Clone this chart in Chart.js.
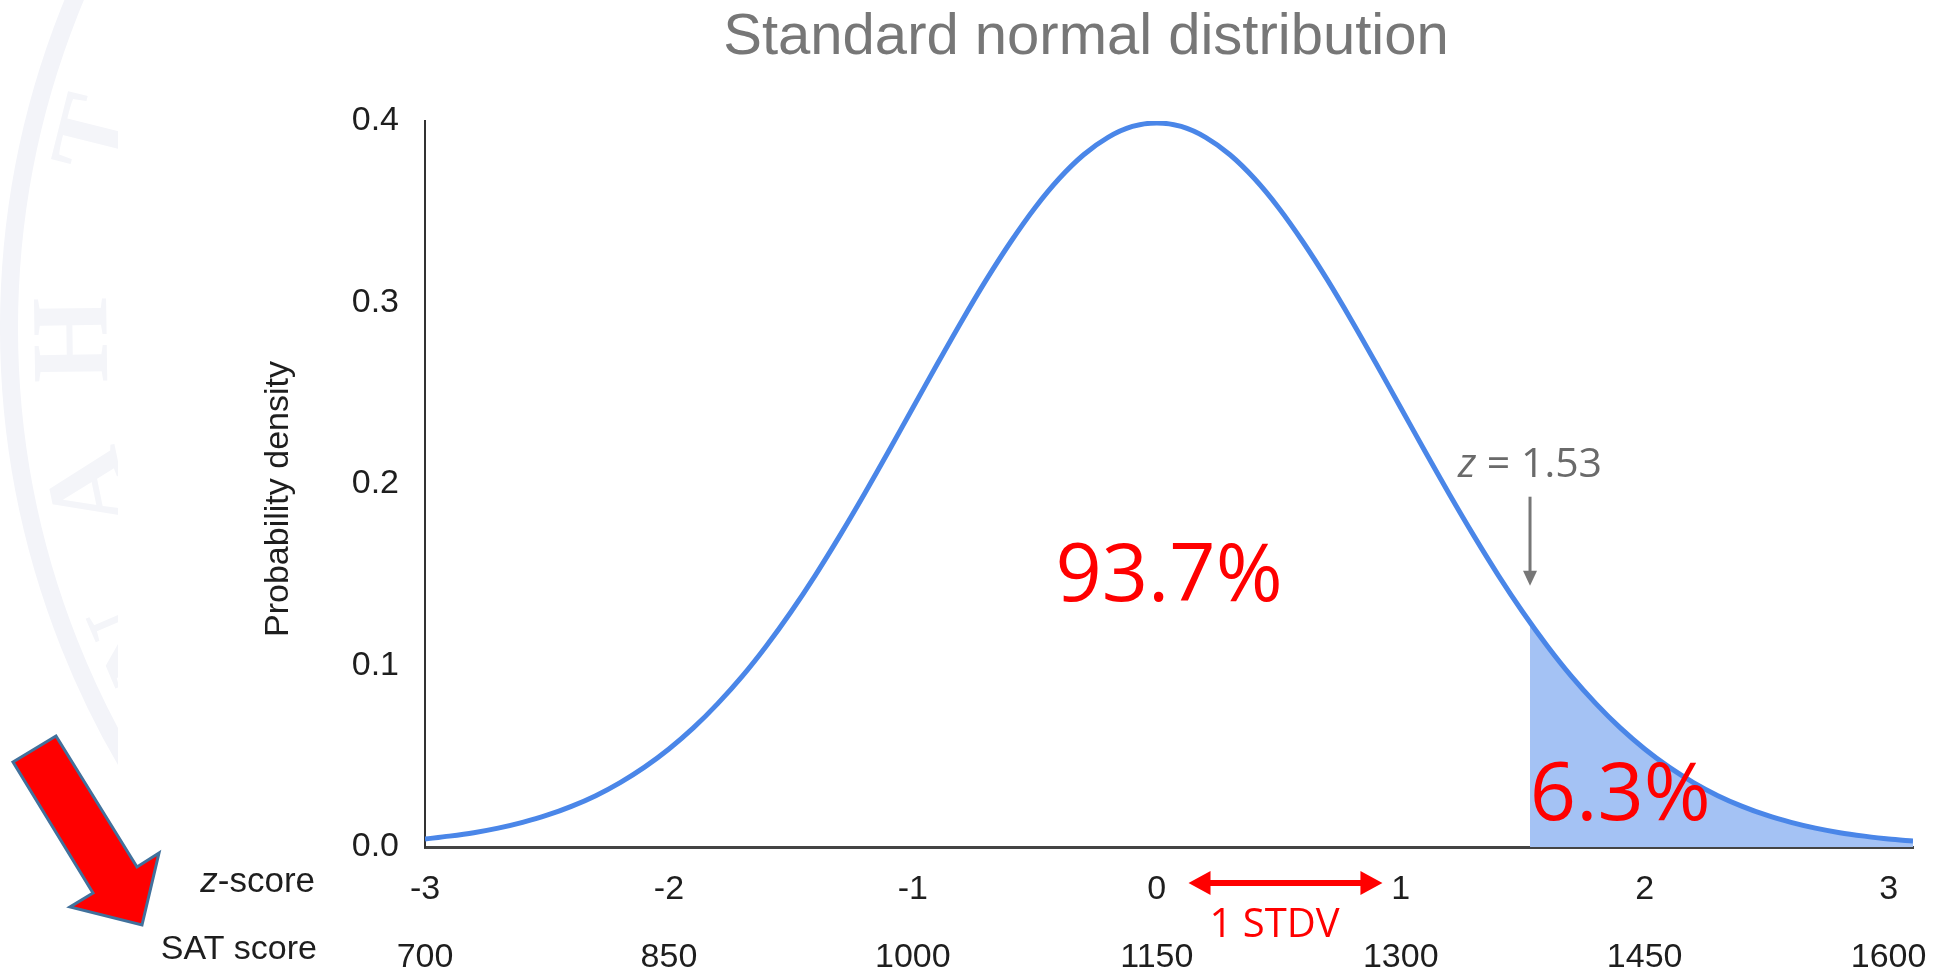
<!DOCTYPE html>
<html>
<head>
<meta charset="utf-8">
<title>Standard normal distribution</title>
<script src="https://cdn.jsdelivr.net/npm/chart.js@4"></script>
<style>
  html, body { margin: 0; padding: 0; background: #fff; }
  #chart { display: block; }
</style>
</head>
<body>
<canvas id="chart" width="1939" height="968"></canvas>
<script>
// ---------- data ----------
const zGrid = [-3.0, -2.9, -2.8, -2.7, -2.6, -2.5, -2.4, -2.3, -2.2, -2.1,
  -2.0, -1.9, -1.8, -1.7, -1.6, -1.5, -1.4, -1.3, -1.2, -1.1,
  -1.0, -0.9, -0.8, -0.7, -0.6, -0.5, -0.4, -0.3, -0.2, -0.1,
  0.0, 0.1, 0.2, 0.3, 0.4, 0.5, 0.6, 0.7, 0.8, 0.9,
  1.0, 1.1, 1.2, 1.3, 1.4, 1.5, 1.6, 1.7, 1.8, 1.9,
  2.0, 2.1, 2.2, 2.3, 2.4, 2.5, 2.6, 2.7, 2.8, 2.9,
  3.0, 3.1];
const density = [0.0044, 0.0060, 0.0079, 0.0104, 0.0136, 0.0175, 0.0224, 0.0283, 0.0355, 0.0440,
  0.0540, 0.0656, 0.0790, 0.0940, 0.1109, 0.1295, 0.1497, 0.1714, 0.1942, 0.2179,
  0.2420, 0.2661, 0.2897, 0.3123, 0.3332, 0.3521, 0.3683, 0.3814, 0.3910, 0.3970,
  0.3989, 0.3970, 0.3910, 0.3814, 0.3683, 0.3521, 0.3332, 0.3123, 0.2897, 0.2661,
  0.2420, 0.2179, 0.1942, 0.1714, 0.1497, 0.1295, 0.1109, 0.0940, 0.0790, 0.0656,
  0.0540, 0.0440, 0.0355, 0.0283, 0.0224, 0.0175, 0.0136, 0.0104, 0.0079, 0.0060,
  0.0044, 0.0033];

// shaded tail right of the cut
const tailZ = [1.53, 1.6, 1.7, 1.8, 1.9, 2.0, 2.1, 2.2, 2.3, 2.4, 2.5, 2.6, 2.7, 2.8, 2.9, 3.0, 3.1];
const tailDensity = [0.1238, 0.1109, 0.0940, 0.0790, 0.0656, 0.0540, 0.0440, 0.0355, 0.0283,
  0.0224, 0.0175, 0.0136, 0.0104, 0.0079, 0.0060, 0.0044, 0.0033];

const zTicks = [-3, -2, -1, 0, 1, 2, 3];
const satTicks = ["700", "850", "1000", "1150", "1300", "1450", "1600"];
const yTicks = [0, 0.1, 0.2, 0.3, 0.4];

const cutZ = 1.53;
const belowText = "93.7%";
const aboveText = "6.3%";

// ---------- annotation placement (data units) ----------
const note = {
  cutLabelY: 0.204,
  cutArrowTop: 0.193,
  cutArrowTip: 0.144,
  below: { x: 0.05, y: 0.1354 },
  above: { x: 1.90, y: 0.0149 },
  stdvFrom: 0.13,
  stdvTo: 0.925
};

const SANS = '"Liberation Sans", Arial, sans-serif';
const NOTE_FONT = '"Open Sans", "Noto Sans", sans-serif';

// ---------- drawing helpers ----------
function drawWatermark(ctx) {
  const cx = 867, cy = 328;
  ctx.save();
  ctx.beginPath();
  ctx.rect(0, 0, 118, ctx.canvas.height);
  ctx.clip();
  ctx.strokeStyle = "#f3f4f9";
  ctx.lineWidth = 18;
  ctx.beginPath();
  ctx.arc(cx, cy, 858, 0, Math.PI * 2);
  ctx.stroke();
  ctx.fillStyle = "#f4f5f9";
  ctx.font = 'bold 110px "Liberation Serif", serif';
  ctx.textAlign = "center";
  ctx.textBaseline = "middle";
  [["T", 0.246], ["H", -0.015], ["A", -0.204], ["N", -0.402]].forEach(([ch, a]) => {
    const th = Math.PI + a;
    ctx.save();
    ctx.translate(cx + 789 * Math.cos(th), cy + 789 * Math.sin(th));
    ctx.rotate(th + Math.PI / 2);
    ctx.fillText(ch, 0, 0);
    ctx.restore();
  });
  ctx.restore();
}

function drawBigArrow(ctx) {
  const pts = [[13, 762], [56, 736], [137, 867], [159, 853], [142, 925], [70, 907], [93, 893]];
  ctx.save();
  ctx.beginPath();
  pts.forEach(([x, y], i) => i ? ctx.lineTo(x, y) : ctx.moveTo(x, y));
  ctx.closePath();
  ctx.fillStyle = "#ff0000";
  ctx.fill();
  ctx.lineWidth = 3;
  ctx.lineJoin = "miter";
  ctx.strokeStyle = "#41719c";
  ctx.stroke();
  ctx.restore();
}

// italic "z" followed by upright rest
function italicZ(ctx, rest, x, y, size, family, align) {
  ctx.font = "italic " + size + "px " + family;
  const wz = ctx.measureText("z").width;
  ctx.font = size + "px " + family;
  const wr = ctx.measureText(rest).width;
  let x0 = x;
  if (align === "right") x0 = x - wz - wr;
  if (align === "center") x0 = x - (wz + wr) / 2;
  ctx.textAlign = "left";
  ctx.font = "italic " + size + "px " + family;
  ctx.fillText("z", x0, y);
  ctx.font = size + "px " + family;
  ctx.fillText(rest, x0 + wz, y);
}

const overlay = {
  id: "overlay",
  beforeDraw(chart) {
    const ctx = chart.ctx;
    ctx.save();
    ctx.fillStyle = "#fff";
    ctx.fillRect(0, 0, chart.width, chart.height);
    ctx.restore();
    drawWatermark(ctx);
  },
  afterDraw(chart) {
    const ctx = chart.ctx;
    const xs = chart.scales.x, ys = chart.scales.y;
    const rowTop = xs.top + 35, rowBot = xs.top + 103;

    ctx.save();
    // row captions left of the axis
    ctx.fillStyle = "#1e1e1e";
    ctx.textBaseline = "middle";
    italicZ(ctx, "-score", 315, rowTop, 35, SANS, "right");
    ctx.textAlign = "right";
    ctx.font = "34px " + SANS;
    ctx.fillText("SAT score", 317, rowBot);

    // y axis title
    ctx.save();
    ctx.translate(279, 499);
    ctx.rotate(-Math.PI / 2);
    ctx.textAlign = "center";
    ctx.textBaseline = "middle";
    ctx.font = "34px " + SANS;
    ctx.fillText("Probability density", 0, 0);
    ctx.restore();

    // cut marker
    const cx = xs.getPixelForValue(cutZ);
    ctx.fillStyle = "#6a6a6a";
    ctx.strokeStyle = "#777";
    ctx.textBaseline = "alphabetic";
    italicZ(ctx, " = " + cutZ.toFixed(2), cx, ys.getPixelForValue(note.cutLabelY), 41, NOTE_FONT, "center");
    const aTop = ys.getPixelForValue(note.cutArrowTop);
    const aTip = ys.getPixelForValue(note.cutArrowTip);
    ctx.lineWidth = 3;
    ctx.beginPath();
    ctx.moveTo(cx, aTop);
    ctx.lineTo(cx, aTip - 12);
    ctx.stroke();
    ctx.beginPath();
    ctx.moveTo(cx - 7, aTip - 15);
    ctx.lineTo(cx + 7, aTip - 15);
    ctx.lineTo(cx, aTip);
    ctx.closePath();
    ctx.fillStyle = "#777";
    ctx.fill();

    // percentages
    ctx.fillStyle = "#ff0000";
    ctx.textAlign = "center";
    ctx.font = "81px " + NOTE_FONT;
    ctx.fillText(belowText, xs.getPixelForValue(note.below.x), ys.getPixelForValue(note.below.y));
    ctx.fillText(aboveText, xs.getPixelForValue(note.above.x), ys.getPixelForValue(note.above.y));

    // 1 STDV double arrow
    const x1 = xs.getPixelForValue(note.stdvFrom), x2 = xs.getPixelForValue(note.stdvTo);
    const ay = xs.top + 36;
    ctx.fillRect(x1 + 20, ay - 3, x2 - x1 - 40, 6);
    ctx.beginPath();
    ctx.moveTo(x1, ay); ctx.lineTo(x1 + 22, ay - 12); ctx.lineTo(x1 + 22, ay + 12); ctx.closePath();
    ctx.moveTo(x2, ay); ctx.lineTo(x2 - 22, ay - 12); ctx.lineTo(x2 - 22, ay + 12); ctx.closePath();
    ctx.fill();
    ctx.font = "40px " + NOTE_FONT;
    ctx.fillText("1 STDV", (x1 + x2) / 2 - 11, xs.top + 90);
    ctx.restore();

    drawBigArrow(ctx);
  }
};

// ---------- chart ----------
const ctx = document.getElementById("chart").getContext("2d");
new Chart(ctx, {
  type: "line",
  data: {
    datasets: [
      {
        data: zGrid.map((z, i) => ({ x: z, y: density[i] })),
        borderColor: "#4a86e8",
        borderWidth: 5,
        pointRadius: 0,
        fill: false,
        tension: 0.3,
        order: 1
      },
      {
        data: tailZ.map((z, i) => ({ x: z, y: tailDensity[i] })),
        borderWidth: 0,
        borderColor: "rgba(0,0,0,0)",
        backgroundColor: "#a4c2f4",
        pointRadius: 0,
        fill: "origin",
        tension: 0.3,
        order: 2
      }
    ]
  },
  options: {
    responsive: false,
    animation: false,
    devicePixelRatio: 1,
    layout: { padding: { left: 259, right: 26, top: 0, bottom: 0 } },
    plugins: {
      legend: { display: false },
      tooltip: { enabled: false },
      title: {
        display: true,
        text: "Standard normal distribution",
        color: "#777",
        font: { family: SANS, size: 58, weight: "normal" },
        padding: { top: 3, bottom: 48.4 }
      }
    },
    scales: {
      x: {
        type: "linear",
        min: -3,
        max: 3.1,
        afterBuildTicks: s => { s.ticks = zTicks.map(v => ({ value: v })); },
        afterFit: s => { s.height = 121; },
        grid: { display: false },
        border: { display: true, color: "#444", width: 3 },
        ticks: {
          autoSkip: false,
          maxRotation: 0,
          padding: 1,
          color: "#1e1e1e",
          font: { family: SANS, size: 34, lineHeight: 2 },
          callback: (v, i) => [String(v), satTicks[i]]
        }
      },
      y: {
        min: 0,
        max: 0.4,
        afterBuildTicks: s => { s.ticks = yTicks.map(v => ({ value: v })); },
        afterFit: s => { s.width = 166; },
        grid: { display: false },
        border: { display: true, color: "#333", width: 2 },
        ticks: {
          padding: 18,
          color: "#1e1e1e",
          font: { family: SANS, size: 34 },
          callback: v => v.toFixed(1)
        }
      }
    }
  },
  plugins: [overlay]
});
</script>
</body>
</html>
